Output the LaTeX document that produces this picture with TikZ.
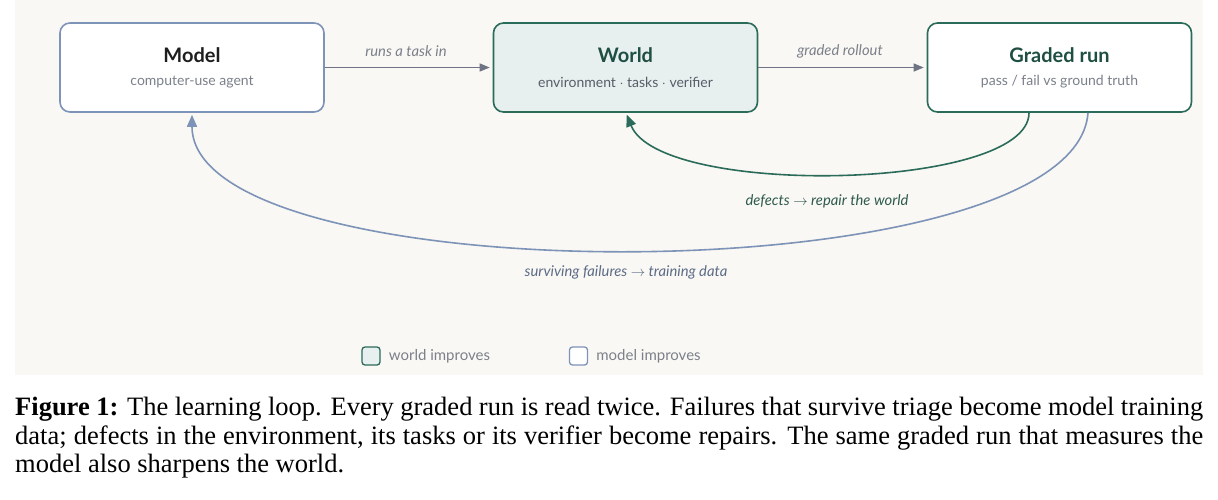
\documentclass[tikz,border=0pt]{standalone}
\usepackage{fontspec}
\setmainfont{Liberation Serif}
\newfontfamily\uifont{Lato}
\usepackage{xcolor}
\usepackage{tikz}
\usetikzlibrary{arrows.meta}

\definecolor{panelbg}{HTML}{F9F8F4}
\definecolor{modelblue}{HTML}{7E93B8}
\definecolor{worldgreen}{HTML}{2B6B5A}
\definecolor{worldfill}{HTML}{E7F0EE}
\definecolor{titledark}{HTML}{1E1E1E}
\definecolor{titlegreen}{HTML}{1F4F42}
\definecolor{subgray}{HTML}{7B808A}
\definecolor{flowgray}{HTML}{6E7484}
\definecolor{defectgreen}{HTML}{2F5A4E}
\definecolor{survblue}{HTML}{5C6B86}

\begin{document}
\begin{tikzpicture}[x=1pt, y=-1pt,
		box/.style={draw, line width=1.6pt, rounded corners=10pt, minimum width=264pt, minimum height=89pt, inner sep=0pt},
		modelbox/.style={box, draw=modelblue, fill=white},
		worldbox/.style={box, draw=worldgreen, fill=worldfill},
		gradedbox/.style={box, draw=worldgreen, fill=white},
		title/.style={font=\uifont\fontsize{20}{24}\selectfont\bfseries, inner sep=0pt},
		sub/.style={font=\uifont\fontsize{14}{17}\selectfont, text=subgray, inner sep=0pt},
		lbl/.style={font=\uifont\itshape\fontsize{14.8}{17}\selectfont, inner sep=0pt},
		flow/.style={draw=flowgray, line width=1.3pt, -{Triangle[length=10pt,width=8pt]}, shorten >=3pt},
		loop/.style={line width=1.6pt, -{Triangle[length=12pt,width=10pt]}, shorten >=2pt},
		legsq/.style={draw, line width=1.3pt, rounded corners=3pt, minimum size=18pt, inner sep=0pt}]

			\useasboundingbox (0,0) rectangle (1218,499);
			\fill[panelbg] (15,0) rectangle (1203,375);

			% the three stages
			\node[modelbox] (model) at (192,67.5) {};
			\node[worldbox] (world) at (625.5,67.5) {};
			\node[gradedbox] (graded) at (1059.5,67.5) {};

			\node[title, text=titledark] (model-t) at (192,55) {Model};
			\node[sub] (model-s) at (192,82) {computer-use agent};
			\node[title, text=titlegreen] (world-t) at (625.5,55) {World};
			\node[sub, text=flowgray!80!black] (world-s) at (625.5,82) {environment $\cdot$ tasks $\cdot$ verifier};
			\node[title, text=titlegreen] (graded-t) at (1059.5,55) {Graded run};
			\node[sub] (graded-s) at (1059.5,82) {pass / fail vs ground truth};

			% forward flow
			\draw[flow] (model) -- (world);
			\draw[flow] (world) -- (graded);
			\node[lbl, text=subgray] (runs) at (406,51) {runs a task in};
			\node[lbl, text=subgray] (rollout) at (840,51) {graded rollout};

			% the two loops back
			\draw[loop, worldgreen] ([xshift=-30.5]graded.south) .. controls +(0,78) and +(34,85) .. ([xshift=0.5]world.south);
			\draw[loop, modelblue] ([xshift=28.5]graded.south) .. controls +(-13,183) and +(0,183) .. (model.south);
			\node[lbl, text=defectgreen] (defects) at (827,201) {defects $\rightarrow$ repair the world};
			\node[lbl, text=survblue] (surviving) at (626,272) {surviving failures $\rightarrow$ training data};

			% legend
			\node[legsq, draw=worldgreen, fill=worldfill] (leg-w) at (371,356) {};
			\node[sub, anchor=west, font=\uifont\fontsize{15}{18}\selectfont] (leg-wt) at ([xshift=8]leg-w.east) {world improves};
			\node[legsq, draw=modelblue, fill=white] (leg-m) at (578.5,356) {};
			\node[sub, anchor=west, font=\uifont\fontsize{15}{18}\selectfont] (leg-mt) at ([xshift=8]leg-m.east) {model improves};

			% caption
			\node[anchor=north west, inner sep=0pt, text width=1188pt, align=justify, font=\fontsize{26.5}{28.5}\selectfont] (caption) at (15,397)
				{\textbf{Figure 1:} The learning loop. Every graded run is read twice. Failures that survive triage become model training data; defects in the environment, its tasks or its verifier become repairs. The same graded run that measures the model also sharpens the world.};
		\end{tikzpicture}
\end{document}
